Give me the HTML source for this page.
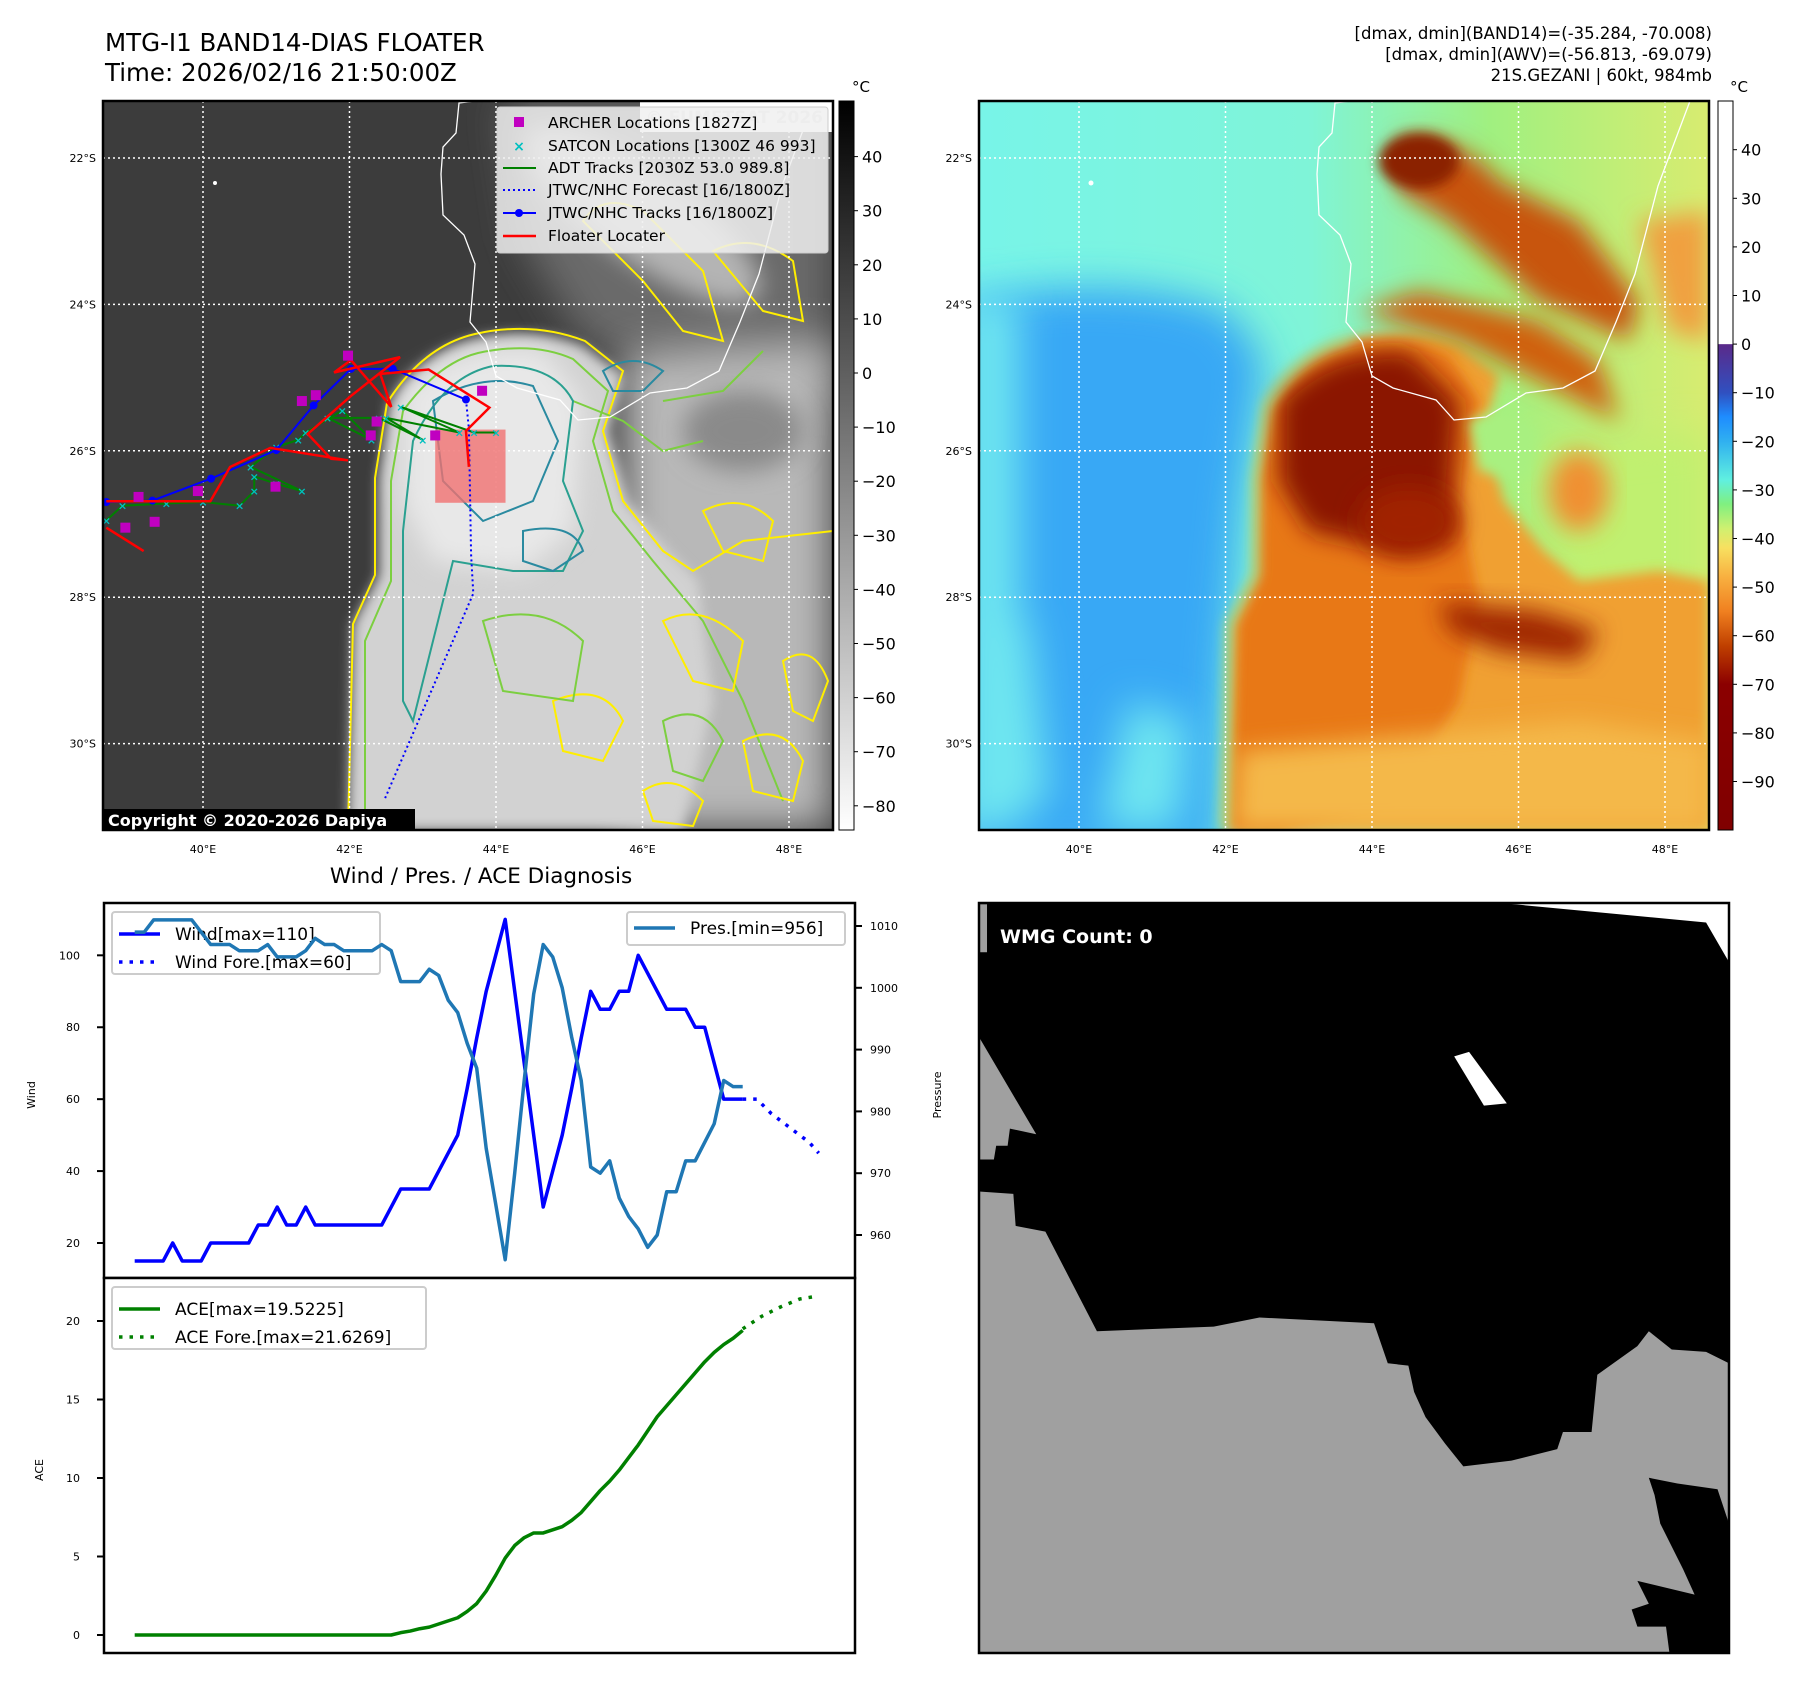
<!DOCTYPE html>
<html><head><meta charset="utf-8"><title>MTG-I1 BAND14 Floater</title>
<style>
html,body{margin:0;padding:0;background:#fff;}
body{width:1797px;height:1690px;overflow:hidden;font-family:"Liberation Sans","DejaVu Sans",sans-serif;}
svg text{font-family:"DejaVu Sans","Liberation Sans",sans-serif;}
</style></head>
<body>
<svg id="fig" width="1797" height="1690" viewBox="0 0 1797 1690" xmlns="http://www.w3.org/2000/svg">
<defs>
  <filter id="b6" x="-20%" y="-20%" width="140%" height="140%"><feGaussianBlur stdDeviation="6"/></filter>
  <filter id="b12" x="-30%" y="-30%" width="160%" height="160%"><feGaussianBlur stdDeviation="12"/></filter>
  <filter id="b20" x="-30%" y="-30%" width="160%" height="160%"><feGaussianBlur stdDeviation="20"/></filter>
  <clipPath id="mapclip"><rect x="0" y="0" width="730" height="729"/></clipPath>
  <linearGradient id="cbGray" x1="0" y1="0" x2="0" y2="1">
    <stop offset="0" stop-color="#000"/><stop offset="1" stop-color="#fff"/>
  </linearGradient>
  <linearGradient id="cbColor" x1="0" y1="0" x2="0" y2="1">
    <stop offset="0" stop-color="#fff"/><stop offset="0.333" stop-color="#fff"/>
    <stop offset="0.334" stop-color="#5a2a8a"/><stop offset="0.4" stop-color="#3050c0"/>
    <stop offset="0.433" stop-color="#1e8cff"/><stop offset="0.467" stop-color="#30b0f0"/>
    <stop offset="0.52" stop-color="#60f0e0"/><stop offset="0.553" stop-color="#80f080"/>
    <stop offset="0.587" stop-color="#d0f070"/><stop offset="0.613" stop-color="#f8e060"/>
    <stop offset="0.653" stop-color="#f8b040"/><stop offset="0.7" stop-color="#f08020"/>
    <stop offset="0.747" stop-color="#c04000"/><stop offset="0.8" stop-color="#8b0000"/>
    <stop offset="1" stop-color="#800000"/>
  </linearGradient>
  <linearGradient id="rbg" x1="0" y1="0" x2="1" y2="0">
    <stop offset="0" stop-color="#78f4e8"/><stop offset="0.45" stop-color="#7ff4d8"/>
    <stop offset="0.7" stop-color="#a0f080"/><stop offset="1" stop-color="#d8ec70"/>
  </linearGradient>
</defs>

<!-- Titles -->
<text x="105" y="51" font-size="24.5">MTG-I1 BAND14-DIAS FLOATER</text>
<text x="105" y="81" font-size="24.5">Time: 2026/02/16 21:50:00Z</text>
<g font-size="16.5" text-anchor="end">
  <text x="1712" y="39">[dmax, dmin](BAND14)=(-35.284, -70.008)</text>
  <text x="1712" y="60">[dmax, dmin](AWV)=(-56.813, -69.079)</text>
  <text x="1712" y="81">21S.GEZANI | 60kt, 984mb</text>
</g>

<!-- LEFT MAP -->
<g transform="translate(103,101)">
  <g clip-path="url(#mapclip)">
    <rect width="730" height="729" fill="#3c3c3c"/>
    <path d="M400,0 L730,0 L730,300 L600,275 L480,240 L420,140 Z" fill="#6a6a6a" filter="url(#b20)"/>
    <path d="M520,250 L730,240 L730,730 L520,730 Z" fill="#b8b8b8" filter="url(#b20)"/>
    <path d="M245,730 L250,523 L276,474 L276,377 L287,304 Q320,250 372,238 Q430,225 480,245 L520,275 L505,330 L525,400 L565,450 L595,480 L610,600 L580,730 Z" fill="#d2d2d2" filter="url(#b6)"/>
    <path d="M300,290 Q360,240 440,250 L480,300 L470,430 L420,470 L330,460 L300,400 Z" fill="#e8e8e8" filter="url(#b12)"/>
    <ellipse cx="540" cy="115" rx="140" ry="45" transform="rotate(35 540 115)" fill="#b4b4b4" filter="url(#b12)"/>
    <ellipse cx="640" cy="330" rx="60" ry="40" fill="#8a8a8a" filter="url(#b12)"/>
    <!-- contours -->
    <path d="M245,729 L250,523 L272,474 L272,377 L284,302 Q320,245 372,233 Q430,220 482,240 L520,270 L500,330 L520,400 L560,450 L590,470 L640,440 L730,430" fill="none" stroke="#ffee00" stroke-width="2"/>
    <path d="M262,729 L262,540 L288,480 L288,380 L300,310 Q335,262 375,252 Q430,240 470,258 L505,290 L490,340 L510,410 L550,460 L600,520 L640,600 L680,700" fill="none" stroke="#7ccf40" stroke-width="2"/>
    <path d="M470,300 L520,320 L560,350 L600,340 M560,300 L620,290 L660,250" fill="none" stroke="#7ccf40" stroke-width="2"/>
    <path d="M300,600 L300,430 L310,340 Q340,275 390,265 Q450,262 470,300 L460,380 L480,430 L460,470 L410,470 L350,460 L330,540 L310,620 Z" fill="none" stroke="#2aa090" stroke-width="2"/>
    <path d="M330,300 Q380,270 430,285 L455,340 L430,400 L380,420 L340,380 Z" fill="none" stroke="#2a8aa0" stroke-width="2"/>
    <path d="M420,430 Q470,420 480,450 L450,470 L420,460 Z M500,270 Q530,250 560,270 L540,290 L510,290 Z" fill="none" stroke="#2a8aa0" stroke-width="2"/>
    <path d="M480,120 Q500,90 540,110 L600,170 L620,240 L580,230 L540,180 Z M610,150 Q650,130 690,160 L700,220 L660,210 Z" fill="none" stroke="#ffee00" stroke-width="2"/>
    <path d="M560,520 Q600,500 640,540 L630,590 L590,580 Z M640,640 Q680,620 700,660 L690,700 L650,690 Z M450,600 Q500,580 520,620 L500,660 L460,650 Z M600,410 Q640,390 670,420 L660,460 L620,450 Z M680,560 Q710,540 725,580 L710,620 L690,610 Z M540,690 Q570,670 600,700 L590,725 L550,720 Z" fill="none" stroke="#ffee00" stroke-width="2"/>
    <path d="M380,520 Q440,500 480,540 L470,600 L400,590 Z M560,620 Q600,600 620,640 L600,680 L570,670 Z" fill="none" stroke="#7ccf40" stroke-width="2"/>
    <!-- coastline -->
    <path id="coast" d="M372,0 L356,2 L353,32 L340,46 L338,73 L340,114 L361,134 L372,163 L367,221 L383,241 L393,275 L414,287 L457,299 L475,319 L507,316 L547,292 L584,287 L616,270 L637,221 L656,173 L679,85 L711,0" fill="none" stroke="#fff" stroke-width="1.3"/>
    <circle cx="112" cy="82" r="2" fill="#fff"/>
    <g id="grid1" stroke="#fff" stroke-width="1.5" stroke-dasharray="2,3"></g>
    <g id="tracks"></g>
    <rect x="537" y="0" width="193" height="31" fill="#fff"/>
    <text x="720" y="22" font-size="17" font-weight="bold" fill="#ddd" text-anchor="end">© EUMETSAT 2026</text>
  </g>
  <rect x="0" y="0" width="730" height="729" fill="none" stroke="#000" stroke-width="2.5"/>
</g>
<!-- legend -->
<g>
  <rect x="497" y="107" width="331" height="146" rx="3" fill="#f0f0f0" fill-opacity="0.85" stroke="#ccc"/>
  <g font-size="15.5">
    <rect x="514" y="117" width="10" height="10" fill="#c000c0"/>
    <text x="548" y="128">ARCHER Locations [1827Z]</text>
    <text x="519" y="151" fill="#00c0c0" font-size="14" font-weight="bold" text-anchor="middle">×</text>
    <text x="548" y="151">SATCON Locations [1300Z 46 993]</text>
    <line x1="503" y1="168" x2="536" y2="168" stroke="#008000" stroke-width="2"/>
    <text x="548" y="173">ADT Tracks [2030Z 53.0 989.8]</text>
    <line x1="503" y1="190" x2="536" y2="190" stroke="#0000ff" stroke-width="2" stroke-dasharray="2,3"/>
    <text x="548" y="195">JTWC/NHC Forecast [16/1800Z]</text>
    <line x1="503" y1="213" x2="536" y2="213" stroke="#0000ff" stroke-width="2"/>
    <circle cx="519" cy="213" r="4" fill="#0000ff"/>
    <text x="548" y="218">JTWC/NHC Tracks [16/1800Z]</text>
    <line x1="503" y1="236" x2="536" y2="236" stroke="#ff0000" stroke-width="2.5"/>
    <text x="548" y="241">Floater Locater</text>
  </g>
</g>
<g>
  <rect x="103" y="809" width="312" height="21" fill="#000"/>
  <text x="108" y="826" font-size="16" font-weight="bold" fill="#fff">Copyright © 2020-2026 Dapiya</text>
</g>
<!-- left colorbar -->
<g>
  <rect x="839" y="101" width="15" height="729" fill="url(#cbGray)" stroke="#000" stroke-width="1"/>
  <text x="852" y="92" font-size="15">°C</text>
  <g id="cb1labels" font-size="16"></g>
</g>

<!-- RIGHT MAP -->
<g transform="translate(979,101)">
  <g clip-path="url(#mapclip)">
    <rect width="730" height="729" fill="url(#rbg)"/>
    <path d="M-20,200 Q150,170 250,210 L285,260 L262,400 L248,560 L240,760 L-20,760 Z" fill="#38a8f5" filter="url(#b20)"/>
    <path d="M-20,190 L40,200 L40,730 L-20,730 Z M0,500 L50,520 L70,700 L0,729 Z M150,600 L210,620 L200,729 L120,729 Z" fill="#6ee6f0" filter="url(#b20)"/>
    <path d="M560,350 L730,330 L730,560 L600,560 Z" fill="#c0f070" filter="url(#b20)"/>
    <path d="M245,729 L250,523 L276,474 L276,377 L287,304 Q320,250 372,238 Q430,225 480,245 L520,275 L505,330 L525,400 L565,450 L600,480 L680,470 L730,480 L730,729 Z" fill="#f0a030" filter="url(#b6)"/>
    <path d="M252,729 L258,523 L280,474 L282,377 L292,310 Q320,260 372,246 Q430,235 470,255 L500,300 L480,400 L500,500 L480,600 L420,700 L300,729 Z" fill="#e87818" filter="url(#b6)"/>
    <path d="M300,300 Q350,245 430,250 L480,300 L470,440 L420,450 L330,430 L300,380 Z" fill="#8b1800" filter="url(#b12)"/>
    <path d="M380,210 L440,190 L560,220 L620,260 L640,320 L600,300 L520,260 L480,240 Z" fill="#d06010" filter="url(#b12)"/>
    <path d="M420,40 Q480,30 520,80 L600,120 L660,200 L650,240 L560,200 L470,120 L420,90 Z" fill="#c85410" filter="url(#b12)"/>
    <ellipse cx="440" cy="60" rx="40" ry="28" fill="#8b2000" filter="url(#b6)"/>
    <path d="M460,500 L560,510 L620,530 L600,560 L520,550 L470,530 Z" fill="#a02800" filter="url(#b12)"/>
    <path d="M660,120 L730,110 L730,240 L690,230 Z" fill="#f0a040" filter="url(#b12)"/>
    <ellipse cx="430" cy="420" rx="50" ry="35" fill="#a02000" filter="url(#b12)"/>
    <ellipse cx="600" cy="390" rx="30" ry="40" fill="#f09030" filter="url(#b12)"/>
    <path d="M255,729 L260,650 L600,620 L730,640 L730,729 Z" fill="#f4b848" filter="url(#b12)"/>
    <path d="M490,320 Q530,300 560,330 L550,380 L500,370 Z" fill="#a8f080" filter="url(#b6)"/>
    <path d="M245,729 L250,523 L276,474 L276,377 L287,304 Q320,250 372,238" fill="none" stroke="#90f0a0" stroke-width="6" filter="url(#b6)"/>
    <path d="M372,0 L356,2 L353,32 L340,46 L338,73 L340,114 L361,134 L372,163 L367,221 L383,241 L393,275 L414,287 L457,299 L475,319 L507,316 L547,292 L584,287 L616,270 L637,221 L656,173 L679,85 L711,0" fill="none" stroke="#fff" stroke-width="1.3"/>
    <circle cx="112" cy="82" r="2.5" fill="#fff"/>
    <g id="grid2" stroke="#fff" stroke-width="1.5" stroke-dasharray="2,3"></g>
  </g>
  <rect x="0" y="0" width="730" height="729" fill="none" stroke="#000" stroke-width="2.5"/>
</g>
<g>
  <rect x="1718" y="101" width="15" height="729" fill="url(#cbColor)" stroke="#000" stroke-width="1"/>
  <text x="1730" y="92" font-size="15">°C</text>
  <g id="cb2labels" font-size="16"></g>
</g>
<g id="maplabels" font-size="11"></g>

<!-- Diagnosis -->
<text x="481" y="883" font-size="21.5" text-anchor="middle">Wind / Pres. / ACE Diagnosis</text>
<g id="diag"></g>

<!-- WMG panel -->
<g>
  <rect x="979" y="903" width="750" height="750" fill="#000"/>
  <g transform="translate(979,903) scale(1.145) translate(-855,-788)">
    <rect x="855" y="789" width="7" height="42" fill="#a0a0a0"/>
    <polygon points="855,905 905,990 882,985 880,1000 870,1000 868,1012 855,1012" fill="#a0a0a0"/>
    <polygon points="855,1040 885,1042 887,1070 913,1075 958,1162 1060,1158 1100,1150 1200,1155 1212,1190 1230,1192 1235,1215 1245,1237 1262,1260 1278,1280 1320,1275 1360,1265 1365,1250 1390,1250 1395,1200 1430,1175 1440,1162 1460,1178 1490,1180 1510,1190 1510,1330 1500,1300 1465,1295 1440,1290 1445,1305 1450,1330 1470,1370 1480,1392 1430,1380 1440,1400 1425,1405 1430,1420 1455,1420 1458,1443 855,1443" fill="#a0a0a0"/>
    <polygon points="1300,787 1512,787 1512,843 1490,805" fill="#fff"/>
    <polygon points="1270,922 1283,918 1316,963 1296,965" fill="#fff"/>
  </g>
  <rect x="979" y="903" width="750" height="750" fill="none" stroke="#000" stroke-width="2.5"/>
  <text x="1000" y="943" font-size="19" font-weight="bold" fill="#fff">WMG Count: 0</text>
</g>
</svg>

<script>
// ---------- Chart data ----------
const windVals = [15,15,15,15,20,15,15,15,20,20,20,20,20,25,25,30,25,25,30,25,25,25,25,25,25,25,25,30,35,35,35,35,40,45,50,63,77,90,100,110,90,70,50,30,40,50,63,77,90,85,85,90,90,100,95,90,85,85,85,80,80,70,60,60,60];
const presVals = [1009,1009,1011,1011,1011,1011,1011,1009,1007,1007,1007,1006,1006,1006,1007,1005,1005,1005,1006,1008,1007,1007,1006,1006,1006,1006,1007,1006,1001,1001,1001,1003,1002,998,996,991,987,974,965,956,970,985,999,1007,1005,1000,992,985,971,970,972,966,963,961,958,960,967,967,972,972,975,978,985,984,984];
const aceVals = [0,0,0,0,0,0,0,0,0,0,0,0,0,0,0,0,0,0,0,0,0,0,0,0,0,0,0,0,0.15,0.25,0.4,0.5,0.7,0.9,1.1,1.5,2.0,2.8,3.8,4.9,5.7,6.2,6.5,6.5,6.7,6.9,7.3,7.8,8.5,9.2,9.8,10.5,11.3,12.1,13.0,13.9,14.6,15.3,16.0,16.7,17.4,18.0,18.5,18.9,19.4];
const fcstIdx = [64,65.5,67,69,71,72];
const windFcst = [60,60,56,52,48,45];
const aceFcstIdx = [64,66,68,70,72];
const aceFcst = [19.5,20.3,20.9,21.4,21.6];
const windTicks = [20,40,60,80,100];
const presTicks = [960,970,980,990,1000,1010];
const aceTicks = [0,5,10,15,20];

// ---------- Map data ----------
const lonTicks = [40,42,44,46,48];
const latTicks = [22,24,26,28,30];
const cb1Ticks = [40,30,20,10,0,-10,-20,-30,-40,-50,-60,-70,-80];
const cb2Ticks = [40,30,20,10,0,-10,-20,-30,-40,-50,-60,-70,-80,-90];
const jtwcLon = [38.68,39.31,40.11,41.0,41.51,42.02,42.59,43.59];
const jtwcLat = [26.70,26.68,26.38,25.99,25.38,24.88,24.88,25.30];
const fcLon = [43.59,43.63,43.66,43.69,42.48];
const fcLat = [25.30,25.70,27.42,27.95,30.76];
const redLon = [38.68,40.10,40.37,40.92,41.98,41.75,41.43,42.02,42.69,41.79,42.02,42.57,42.42,43.08,43.91,43.59,43.63];
const redLat = [26.69,26.69,26.22,25.96,26.13,26.11,25.77,25.25,24.72,24.93,24.76,25.40,24.95,24.89,25.41,25.73,26.22];
const redTailLon = [38.68,39.19];
const redTailLat = [27.05,27.37];
const adtLon = [38.68,38.9,39.5,40.0,40.5,40.7,40.7,41.0,41.35,40.65,41.0,41.3,41.4,41.9,42.3,41.7,42.4,43.0,42.5,43.5,42.7,43.7,44.0];
const adtLat = [26.95,26.75,26.72,26.70,26.75,26.55,26.35,26.45,26.55,26.22,25.95,25.85,25.75,25.45,25.85,25.55,25.55,25.85,25.55,25.75,25.40,25.75,25.75];
const archerLon = [38.94,39.12,39.34,39.93,40.99,41.35,41.54,41.98,42.29,42.37,43.81,43.17];
const archerLat = [27.05,26.63,26.97,26.55,26.49,25.32,25.24,24.70,25.79,25.60,25.18,25.79];
const floaterBox = [43.17,44.13,25.71,26.71];

const NS = 'http://www.w3.org/2000/svg';
function mk(parent, tag, attrs, text) {
  const e = document.createElementNS(NS, tag);
  for (const k in attrs) e.setAttribute(k, attrs[k]);
  if (text !== undefined) e.textContent = text;
  parent.appendChild(e);
  return e;
}
function mx(lon) { return 100 + (lon - 40) * 73.25; }
function my(lat) { return 57 + (lat - 22) * 73.2; }

['grid1','grid2'].forEach(function(id){
  const g = document.getElementById(id);
  lonTicks.forEach(function(lon){
    const l = mk(g,'line',{x1:mx(lon),x2:mx(lon),y1:0,y2:729});
    
    
  });
  latTicks.forEach(function(lat){
    const l = mk(g,'line',{x1:0,x2:730,y1:my(lat),y2:my(lat)});
    
    
  });
});
const ml = document.getElementById('maplabels');
[103,979].forEach(function(ox){
  lonTicks.forEach(function(lon){
    const t = mk(ml,'text',{x:ox+mx(lon),y:853,'text-anchor':'middle'},lon+'°E');
    
    
  });
  latTicks.forEach(function(lat){
    const t = mk(ml,'text',{x:ox-7,y:101+my(lat)+4,'text-anchor':'end'},lat+'°S');
    
    
  });
});
const c1 = document.getElementById('cb1labels');
cb1Ticks.forEach(function(v){
  const y = 156.6 + (40 - v) * 5.41;
  const tl = mk(c1,'line',{x1:854,x2:858,y1:y,y2:y,stroke:'#000'});
  
  
  const t = mk(c1,'text',{x:862,y:y+6}, String(v).replace('-','−'));
  
  
});
const c2 = document.getElementById('cb2labels');
cb2Ticks.forEach(function(v){
  const y = 149.7 + (40 - v) * 4.86;
  const tl = mk(c2,'line',{x1:1733,x2:1737,y1:y,y2:y,stroke:'#000'});
  
  
  const t = mk(c2,'text',{x:1741,y:y+6}, String(v).replace('-','−'));
  
  
});

const tr = document.getElementById('tracks');
function pts(lons, lats){ return lons.map(function(l,i){return mx(l)+','+my(lats[i]);}).join(' '); }
const fb = mk(tr,'rect',{x:mx(floaterBox[0]),y:my(floaterBox[2]),width:mx(floaterBox[1])-mx(floaterBox[0]),height:my(floaterBox[3])-my(floaterBox[2]),fill:'#f07070','fill-opacity':'0.8'});


const adt = mk(tr,'polyline',{points:pts(adtLon,adtLat),fill:'none',stroke:'#008000','stroke-width':2});


adtLon.forEach(function(l,i){
  const s = mk(tr,'text',{x:mx(l),y:my(adtLat[i])+4,'font-size':11,'font-weight':'bold',fill:'#00c0c0','text-anchor':'middle'},'×');
  
  
});
const fc = mk(tr,'polyline',{points:pts(fcLon,fcLat),fill:'none',stroke:'#0000ff','stroke-width':2,'stroke-dasharray':'2,3'});


const jt = mk(tr,'polyline',{points:pts(jtwcLon,jtwcLat),fill:'none',stroke:'#0000ff','stroke-width':2});


jtwcLon.forEach(function(l,i){
  const c = mk(tr,'circle',{cx:mx(l),cy:my(jtwcLat[i]),r:4,fill:'#0000ff'});
  
  
});
const rd = mk(tr,'polyline',{points:pts(redLon,redLat),fill:'none',stroke:'#ff0000','stroke-width':2.5});


const rt = mk(tr,'polyline',{points:pts(redTailLon,redTailLat),fill:'none',stroke:'#ff0000','stroke-width':2.5});


archerLon.forEach(function(l,i){
  const r = mk(tr,'rect',{x:mx(l)-5,y:my(archerLat[i])-5,width:10,height:10,fill:'#c000c0'});
  
  
});

// ---------- Diagnosis chart ----------
function xi(i){ return 134.7 + i * 9.5; }
function yW(v){ return 1243 - (v - 20) * 3.596; }
function yP(p){ return 1235 - (p - 960) * 6.18; }
function yA(a){ return 1635 - a * 15.7; }
const dg = document.getElementById('diag');
function line(xs, ys, attrs, name){
  const p = mk(dg,'polyline',Object.assign({points:xs.map(function(x,i){return x+','+ys[i];}).join(' '),fill:'none','stroke-linejoin':'round'},attrs));
  
  
  return p;
}
const f1 = mk(dg,'rect',{x:104,y:903,width:751,height:375,fill:'#fff',stroke:'#000','stroke-width':2.5});


const f2 = mk(dg,'rect',{x:104,y:1278,width:751,height:375,fill:'#fff',stroke:'#000','stroke-width':2.5});


windTicks.forEach(function(v){
  const t = mk(dg,'line',{x1:97,x2:104,y1:yW(v),y2:yW(v),stroke:'#000','stroke-width':2});
  
  
  const l = mk(dg,'text',{x:80,y:yW(v)+4,'font-size':11,'text-anchor':'end'},v);
  
  
});
presTicks.forEach(function(v){
  const t = mk(dg,'line',{x1:855,x2:862,y1:yP(v),y2:yP(v),stroke:'#000','stroke-width':2});
  
  
  const l = mk(dg,'text',{x:870,y:yP(v)+4,'font-size':11},v);
  
  
});
aceTicks.forEach(function(v){
  const t = mk(dg,'line',{x1:97,x2:104,y1:yA(v),y2:yA(v),stroke:'#000','stroke-width':2});
  
  
  const l = mk(dg,'text',{x:80,y:yA(v)+4,'font-size':11,'text-anchor':'end'},v);
  
  
});
const wt = mk(dg,'text',{x:0,y:0,'font-size':11,transform:'translate(35,1095) rotate(-90)','text-anchor':'middle'},'Wind');


const pt = mk(dg,'text',{x:0,y:0,'font-size':11,transform:'translate(941,1095) rotate(-90)','text-anchor':'middle'},'Pressure');


const at = mk(dg,'text',{x:0,y:0,'font-size':11,transform:'translate(43,1470) rotate(-90)','text-anchor':'middle'},'ACE');



const idx = windVals.map(function(_,i){return i;});
line(idx.map(xi), windVals.map(yW), {stroke:'#0000ff','stroke-width':3.5}, 'wind-line');
line(fcstIdx.map(xi), windFcst.map(yW), {stroke:'#0000ff','stroke-width':3.5,'stroke-dasharray':'3.5,7'}, 'wind-forecast-line');
const wl = mk(dg,'g',{});


mk(wl,'rect',{x:112,y:912,width:268,height:62,rx:3,fill:'#fff','fill-opacity':0.8,stroke:'#ccc','stroke-width':2});
mk(wl,'line',{x1:119,x2:160,y1:934,y2:934,stroke:'#0000ff','stroke-width':3.5});
mk(wl,'line',{x1:119,x2:160,y1:962,y2:962,stroke:'#0000ff','stroke-width':3.5,'stroke-dasharray':'3.5,7'});
mk(wl,'text',{x:175,y:940,'font-size':17},'Wind[max=110]');
mk(wl,'text',{x:175,y:968,'font-size':17},'Wind Fore.[max=60]');
line(idx.map(xi), presVals.map(yP), {stroke:'#1f77b4','stroke-width':3.5}, 'pressure-line');
const pl = mk(dg,'g',{});


mk(pl,'rect',{x:627,y:912,width:218,height:33,rx:3,fill:'#fff','fill-opacity':0.8,stroke:'#ccc','stroke-width':2});
mk(pl,'line',{x1:634,x2:675,y1:928,y2:928,stroke:'#1f77b4','stroke-width':3.5});
mk(pl,'text',{x:690,y:934,'font-size':17},'Pres.[min=956]');
line(idx.map(xi), aceVals.map(yA), {stroke:'#008000','stroke-width':3.5}, 'ace-line');
line(aceFcstIdx.map(xi), aceFcst.map(yA), {stroke:'#008000','stroke-width':3.5,'stroke-dasharray':'3.5,7'}, 'ace-forecast-line');
const al = mk(dg,'g',{});


mk(al,'rect',{x:112,y:1287,width:314,height:62,rx:3,fill:'#fff','fill-opacity':0.8,stroke:'#ccc','stroke-width':2});
mk(al,'line',{x1:119,x2:160,y1:1309,y2:1309,stroke:'#008000','stroke-width':3.5});
mk(al,'line',{x1:119,x2:160,y1:1337,y2:1337,stroke:'#008000','stroke-width':3.5,'stroke-dasharray':'3.5,7'});
mk(al,'text',{x:175,y:1315,'font-size':17},'ACE[max=19.5225]');
mk(al,'text',{x:175,y:1343,'font-size':17},'ACE Fore.[max=21.6269]');
</script>
</body></html>
